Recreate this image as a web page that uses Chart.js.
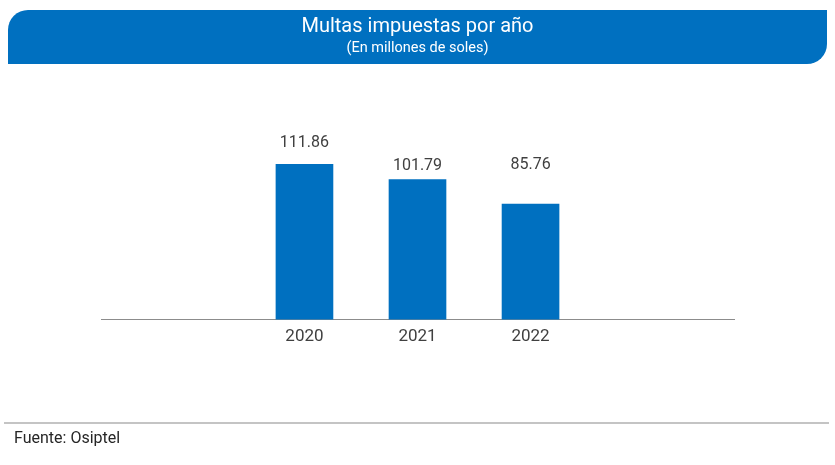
<!DOCTYPE html>
<html lang="es">
<head>
    <meta charset="UTF-8">
    <title>Multas impuestas por año</title>
    <script src="https://cdn.jsdelivr.net/npm/chart.js"></script>
    <style>
        body { margin: 0; background: #fff; font-family: Roboto, "Liberation Sans", sans-serif; }
        #wrap { position: relative; width: 835px; height: 465px; overflow: hidden; }
        #banner {
            position: absolute; left: 8px; top: 10px; width: 819px; height: 54px;
            background: #0070c0; color: #fff; text-align: center;
            border-radius: 20px 0 20px 0;
        }
        #banner .t { font-size: 20px; margin-top: 4px; line-height: 22px; }
        #banner .s { font-size: 14.5px; line-height: 18px; margin-top: 3px; }
        #chartBox { position: absolute; left: 0; top: 0; width: 835px; height: 465px; }
        #rule { position: absolute; left: 4px; top: 422px; width: 825px; height: 2px; background: #c4c4c4; }
        #source { position: absolute; left: 14px; top: 428px; font-size: 16px; color: #262626; }
    </style>
</head>
<body>
<div id="wrap">
    <div id="chartBox"><canvas id="barChart"></canvas></div>
    <div id="banner">
        <div class="t">Multas impuestas por año</div>
        <div class="s">(En millones de soles)</div>
    </div>
    <div id="rule"></div>
    <div id="source">Fuente: Osiptel</div>
</div>

<script>
    // data
    var categories = ['2020', '2021', '2022'];
    var values = [111.86, 101.79, 85.76];
    var valueLabels = ['111.86', '101.79', '85.76'];

    // value labels above bars
    var barLabels = {
        id: 'barLabels',
        afterDatasetsDraw: function (chart, args, opts) {
            var ctx = chart.ctx;
            var meta = chart.getDatasetMeta(0);
            ctx.save();
            ctx.font = '16px Roboto, "Liberation Sans", sans-serif';
            ctx.fillStyle = '#404040';
            ctx.textAlign = 'center';
            ctx.textBaseline = 'middle';
            meta.data.forEach(function (bar, i) {
                ctx.fillText(valueLabels[i], bar.x, bar.y - opts.lift[i]);
            });
            ctx.restore();
        }
    };

    var ctx = document.getElementById('barChart').getContext('2d');
    var chart = new Chart(ctx, {
        type: 'bar',
        data: {
            datasets: [{
                data: categories.map(function (c, i) { return { x: Number(c), y: values[i] }; }),
                backgroundColor: '#0070c0',
                borderWidth: 0,
                barThickness: 57
            }]
        },
        options: {
            responsive: true,
            maintainAspectRatio: false,
            animation: false,
            layout: { padding: { left: 101, right: 101, top: 100, bottom: 111 } },
            plugins: {
                legend: { display: false },
                tooltip: { enabled: false },
                barLabels: { lift: [21, 14, 39] }
            },
            scales: {
                x: {
                    type: 'linear',
                    min: 2018.2,
                    max: 2023.8,
                    offset: false,
                    grid: { display: false, drawTicks: false },
                    border: { display: true, color: '#8c8c8c', width: 1 },
                    afterBuildTicks: function (scale) {
                        scale.ticks = categories.map(function (c) { return { value: Number(c) }; });
                    },
                    ticks: {
                        padding: 7,
                        color: '#404040',
                        font: { size: 17, family: 'Roboto, "Liberation Sans", sans-serif' },
                        callback: function (v, i) { return categories[i]; }
                    }
                },
                y: {
                    display: false,
                    min: 10,
                    max: 154
                }
            }
        },
        plugins: [barLabels]
    });
</script>
</body>
</html>
